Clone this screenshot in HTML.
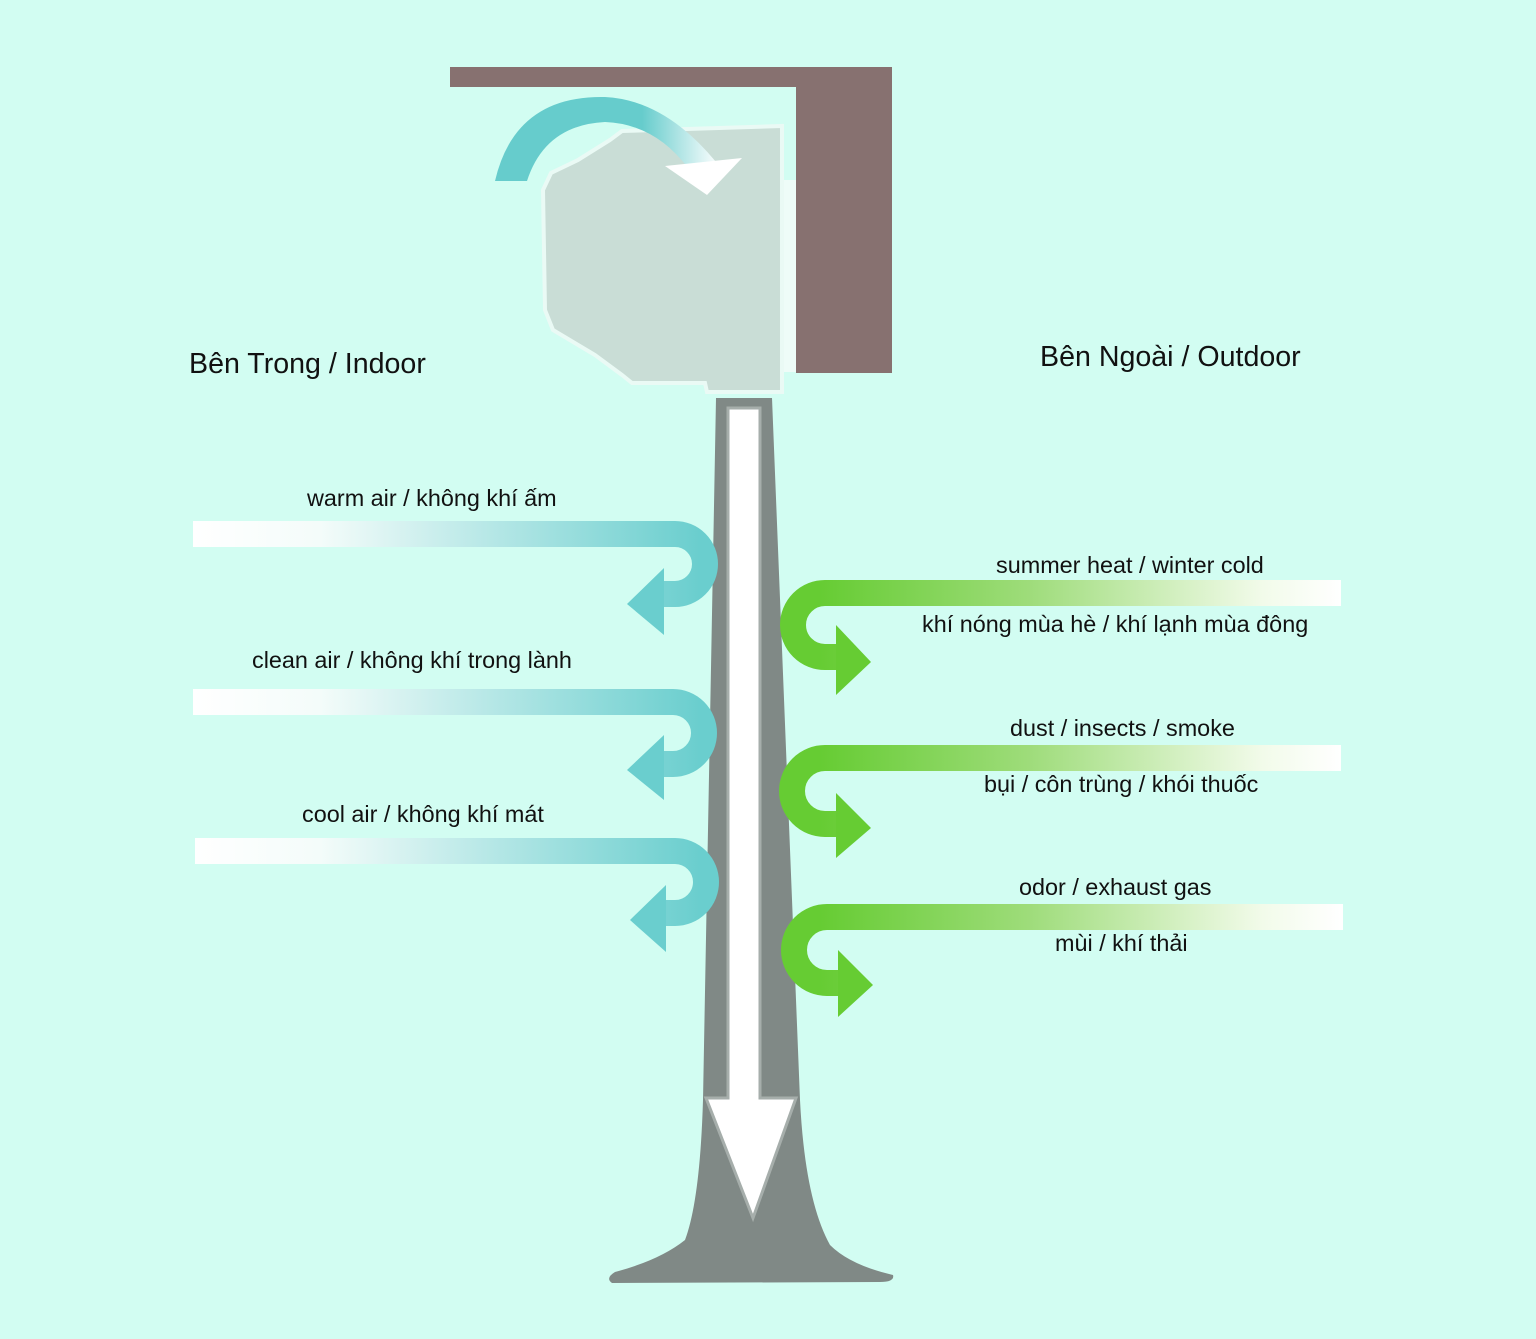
<!DOCTYPE html>
<html><head><meta charset="utf-8"><style>
body{margin:0;background:#d2fdf2;}
svg{display:block}
text{font-family:"Liberation Sans",sans-serif;font-size:23.4px;fill:#111}
</style></head><body>
<svg width="1536" height="1339" viewBox="0 0 1536 1339">
<defs>
<linearGradient id="tl" x1="193" y1="0" x2="700" y2="0" gradientUnits="userSpaceOnUse">
<stop offset="0" stop-color="#ffffff"/><stop offset="0.25" stop-color="#f4fcfa"/><stop offset="1" stop-color="#6acece"/></linearGradient>
<linearGradient id="gr" x1="1341" y1="0" x2="820" y2="0" gradientUnits="userSpaceOnUse">
<stop offset="0" stop-color="#ffffff"/><stop offset="0.15" stop-color="#f2fbea"/><stop offset="0.6" stop-color="#9edc7a"/><stop offset="1" stop-color="#66cc33"/></linearGradient>
<linearGradient id="arc" x1="600" y1="0" x2="720" y2="0" gradientUnits="userSpaceOnUse">
<stop offset="0" stop-color="#66cccc"/><stop offset="0.35" stop-color="#66cccc"/><stop offset="1" stop-color="#ffffff"/></linearGradient>
</defs>
<!-- wall -->
<path d="M450,67 H892 V373 H796 V87 H450 Z" fill="#877170"/>
<!-- unit -->
<rect x="780" y="180" width="16" height="192" fill="#eefcf8"/>
<polygon points="622,131 782,126 782,392 707,392 705,383 632,383 622,375 595,355 553,330 545,310 543,190 551,173 578,160 610,140" fill="#c9ddd6" stroke="#eafaf5" stroke-width="4"/>
<!-- top arc arrow -->
<path d="M495,181 Q515,95 605,97 Q665,100 716,162 L688,168 Q655,124 605,122 Q545,125 527,181 Z" fill="url(#arc)"/>
<polygon points="665,166 742,158 707,195" fill="#ffffff"/>
<!-- pipe -->
<path d="M716,398 H772 L800,1100 Q805,1200 830,1245 Q850,1265 893,1275 Q895,1282 880,1282 L612,1283 Q605,1278 615,1272 Q660,1260 685,1240 Q700,1200 703,1100 Z" fill="#808986"/>
<path d="M728,408 H760 V1098 H796 L753,1218 L706,1098 H728 Z" fill="#ffffff" stroke="#a6aeab" stroke-width="3"/>
<!-- left teal arrows -->
<g fill="none" stroke="url(#tl)" stroke-width="26">
<path d="M193,534 H675 A30 30 0 0 1 675,594 H660"/>
<path d="M193,702 H673 A31 31 0 0 1 673,764 H660"/>
<path d="M195,851 H675 A31 31 0 0 1 675,913 H662"/>
</g>
<g fill="#6acece">
<polygon points="627,604 664,568 664,635"/>
<polygon points="627,770 664,735 664,800"/>
<polygon points="630,920 666,885 666,952"/>
</g>
<!-- right green arrows -->
<g fill="none" stroke="url(#gr)" stroke-width="26">
<path d="M1341,593 H825 A32 32 0 0 0 825,657 H840"/>
<path d="M1341,758 H825 A33 33 0 0 0 825,824 H840"/>
<path d="M1343,917 H827 A33 33 0 0 0 827,983 H842"/>
</g>
<g fill="#66cc33">
<polygon points="871,662 836,625 836,695"/>
<polygon points="871,828 836,793 836,858"/>
<polygon points="873,985 838,950 838,1017"/>
</g>
<!-- text -->
<text x="189" y="373" style="font-size:28.6px">Bên Trong / Indoor</text>
<text x="1040" y="366" style="font-size:28.6px">Bên Ngoài / Outdoor</text>
<text x="307" y="506">warm air / không khí ấm</text>
<text x="252" y="668">clean air / không khí trong lành</text>
<text x="302" y="822">cool air / không khí mát</text>
<text x="996" y="573">summer heat / winter cold</text>
<text x="922" y="632">khí nóng mùa hè / khí lạnh mùa đông</text>
<text x="1010" y="736">dust / insects / smoke</text>
<text x="984" y="792">bụi / côn trùng / khói thuốc</text>
<text x="1019" y="895">odor / exhaust gas</text>
<text x="1055" y="951">mùi / khí thải</text>
</svg>
</body></html>
